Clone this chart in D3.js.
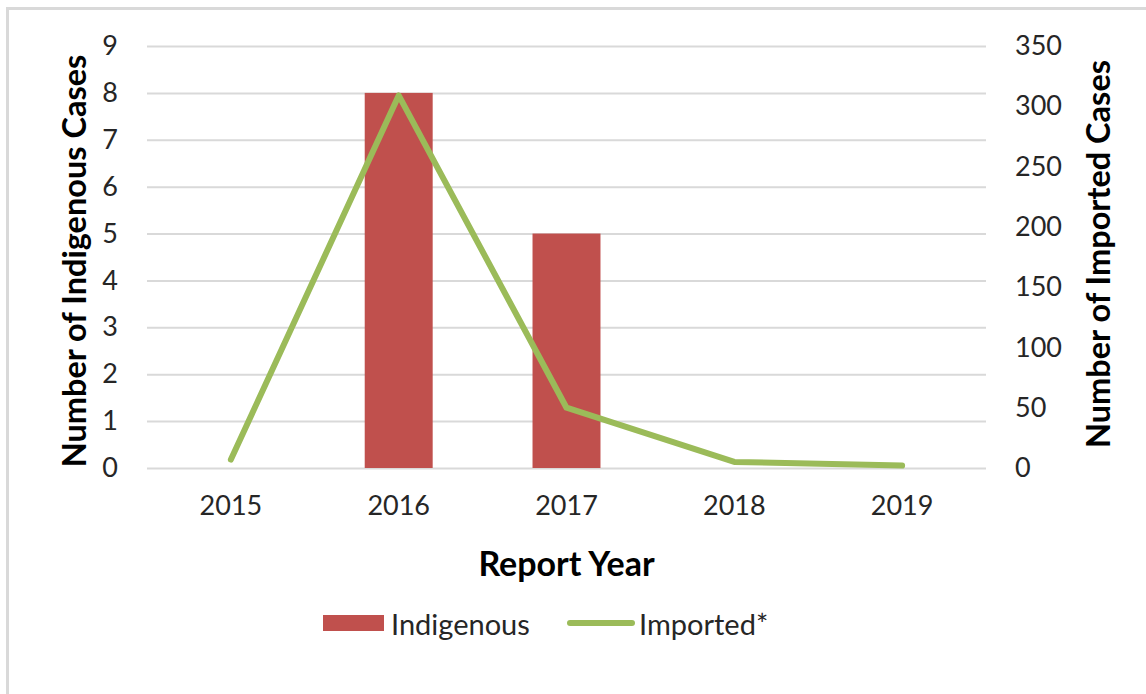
<html>
<head>
<meta charset="utf-8" />
<script src="https://d3js.org/d3.v7.min.js"></script>
<style>
    body { margin: 0; background: #fff; font-family: Lato, "Open Sans", sans-serif; }
    .grid line { stroke: #d9d9d9; stroke-width: 2; }
    .grid .domain { display: none; }
    .tick text { fill: #262626; }
</style>
</head>
<body>
<svg id="chart" width="1146" height="694"></svg>
<script>
    const years = ["2015", "2016", "2017", "2018", "2019"]
    const indigenous = [0, 8, 5, 0, 0]
    const imported = [7, 309, 50, 5, 2]
    const leftTicks = [0, 1, 2, 3, 4, 5, 6, 7, 8, 9]
    const rightTicks = [0, 50, 100, 150, 200, 250, 300, 350]

    const svg = d3.select("#chart")
    const margin = { left: 147, right: 160, top: 46, bottom: 226 }
    const width = 1146 - margin.left - margin.right
    const height = 694 - margin.top - margin.bottom

    // outer frame
    svg.append("rect").attr("x", 7.5).attr("y", 8.5).attr("width", 1150).attr("height", 700)
        .attr("fill", "none").attr("stroke", "#d9d9d9").attr("stroke-width", 3)

    const g = svg.append("g").attr("transform", `translate(${margin.left},${margin.top})`)

    const x = d3.scaleBand().domain(years).range([0, width])
    const yL = d3.scaleLinear().domain([0, 9]).range([height, 0])
    const yR = d3.scaleLinear().domain([0, 350]).range([height, 0])

    g.append("g").attr("class", "grid")
        .call(d3.axisLeft(yL).tickValues(leftTicks).tickSize(-width).tickFormat(""))

    // bars
    const barW = x.bandwidth() * 0.405
    g.selectAll("rect.bar").data(years.map((y, i) => ({ year: y, v: indigenous[i] })))
        .join("rect").attr("class", "bar")
        .attr("x", d => x(d.year) + (x.bandwidth() - barW) / 2)
        .attr("y", d => yL(d.v))
        .attr("width", barW)
        .attr("height", d => height - yL(d.v))
        .attr("fill", "#c0504d")

    // imported line
    const line = d3.line().x(d => x(d.year) + x.bandwidth() / 2).y(d => yR(d.v))
    g.append("path").datum(years.map((y, i) => ({ year: y, v: imported[i] })))
        .attr("d", line)
        .attr("fill", "none").attr("stroke", "#9bbb59").attr("stroke-width", 6)
        .attr("stroke-linecap", "round").attr("stroke-linejoin", "round")

    // axes text
    const left = g.append("g").call(d3.axisLeft(yL).tickValues(leftTicks).tickSize(0).tickPadding(29))
    left.select(".domain").remove()
    left.selectAll("text").attr("font-size", 27).attr("font-family", "Lato")

    const right = g.append("g").attr("transform", `translate(${width},0)`)
        .call(d3.axisRight(yR).tickValues(rightTicks).tickSize(0).tickPadding(29))
    right.select(".domain").remove()
    right.selectAll("text").attr("font-size", 27).attr("font-family", "Lato")

    const bottom = g.append("g").attr("transform", `translate(0,${height})`)
        .call(d3.axisBottom(x).tickSize(0).tickPadding(28))
    bottom.select(".domain").remove()
    bottom.selectAll("text").attr("font-size", 27).attr("font-family", "Lato")

    // titles
    svg.append("text").attr("transform", "translate(73,261) rotate(-90)")
        .attr("text-anchor", "middle").attr("dominant-baseline", "central")
        .attr("font-size", 32.5).attr("font-weight", "bold").attr("fill", "#000")
        .text("Number of Indigenous Cases")
    svg.append("text").attr("transform", "translate(1097,254) rotate(-90)")
        .attr("text-anchor", "middle").attr("dominant-baseline", "central")
        .attr("font-size", 32.5).attr("font-weight", "bold").attr("fill", "#000")
        .text("Number of Imported Cases")
    svg.append("text").attr("x", margin.left + width / 2).attr("y", 562)
        .attr("text-anchor", "middle").attr("dominant-baseline", "central")
        .attr("font-size", 34).attr("font-weight", "bold").attr("fill", "#000")
        .text("Report Year")

    // legend
    const lg = svg.append("g")
    lg.append("rect").attr("x", 323).attr("y", 615).attr("width", 61).attr("height", 16).attr("fill", "#c0504d")
    lg.append("text").attr("x", 391).attr("y", 623).attr("dominant-baseline", "central")
        .attr("font-size", 29).attr("fill", "#262626").text("Indigenous")
    lg.append("line").attr("x1", 570).attr("x2", 632).attr("y1", 623).attr("y2", 623)
        .attr("stroke", "#9bbb59").attr("stroke-width", 6).attr("stroke-linecap", "round")
    lg.append("text").attr("x", 639).attr("y", 623).attr("dominant-baseline", "central")
        .attr("font-size", 29).attr("fill", "#262626").text("Imported*")
</script>
</body>
</html>
